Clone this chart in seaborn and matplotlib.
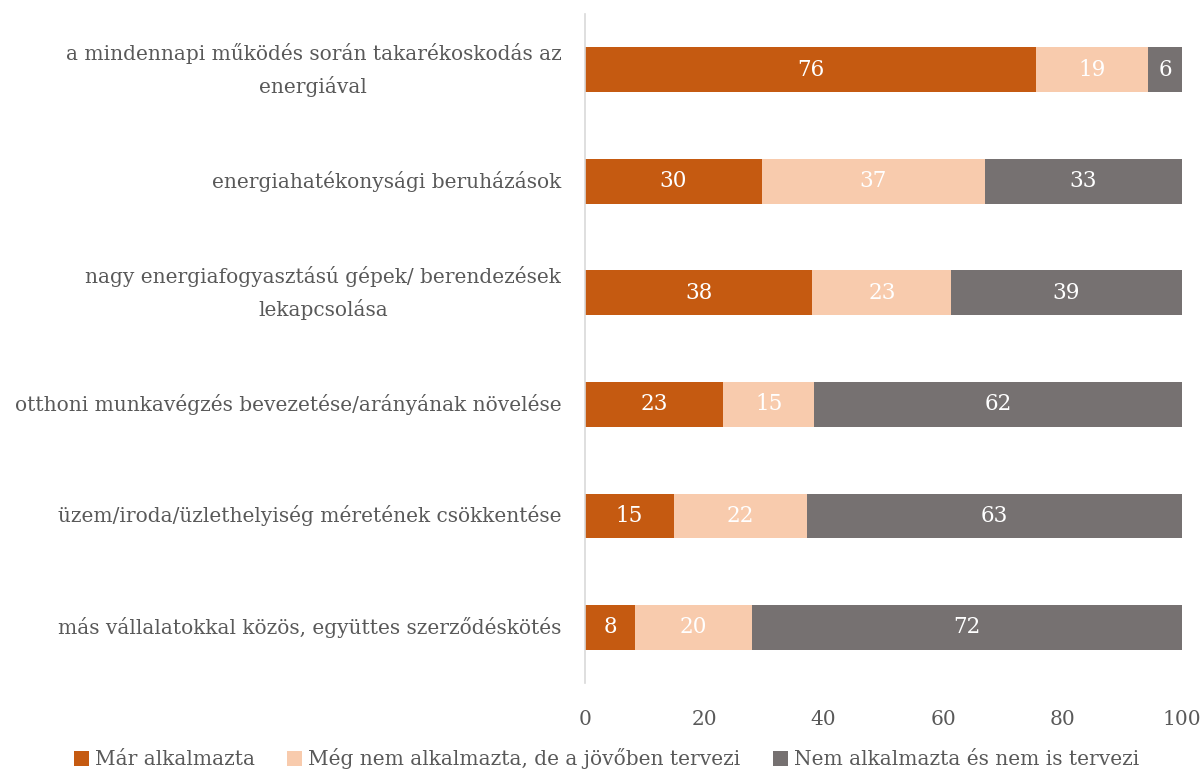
import numpy as np
import pandas as pd
import seaborn as sns
import matplotlib.pyplot as plt

# data (percent)
categories = [
    "a mindennapi működés során takarékoskodás az\nenergiával",
    "energiahatékonysági beruházások",
    "nagy energiafogyasztású gépek/ berendezések\nlekapcsolása",
    "otthoni munkavégzés bevezetése/arányának növelése",
    "üzem/iroda/üzlethelyiség méretének csökkentése",
    "más vállalatokkal közös, együttes szerződéskötés",
]
mar_alkalmazta = [75.6, 29.6, 38.1, 23.2, 14.9, 8.4]
jovoben_tervezi = [18.8, 37.4, 23.3, 15.2, 22.3, 19.6]
nem_tervezi = [5.6, 33.0, 38.6, 61.6, 62.8, 72.0]
series_names = ["Már alkalmazta",
                "Még nem alkalmazta, de a jövőben tervezi",
                "Nem alkalmazta és nem is tervezi"]
colors = ["#C55A11", "#F8CBAD", "#767171"]

sns.set_style("white")
plt.rcParams['font.family'] = ['DejaVu Serif']
txt = "#595959"

fig = plt.figure(figsize=(12.01, 7.72), dpi=100)
ax = fig.add_axes([0.487, 0.115, 0.497, 0.867])

df = pd.DataFrame({"cat": categories, "a": mar_alkalmazta,
                   "b": jovoben_tervezi, "c": nem_tervezi})
left = np.zeros(len(df))
for col, name, c in zip(["a", "b", "c"], series_names, colors):
    sns.barplot(data=df, y="cat", x=col, orient="h", color=c, width=0.4,
                left=left, label=name, ax=ax, linewidth=0, saturation=1)
    left = left + df[col].values

for cont in ax.containers:
    ax.bar_label(cont, labels=[f"{v:.0f}" for v in cont.datavalues],
                 label_type="center", color="white", fontsize=15.5)

ax.set_xlim(0, 100)
ax.set_ylim(5.5, -0.5)
ax.set_xticks([0, 20, 40, 60, 80, 100])
ax.set_xlabel("")
ax.set_ylabel("")
for s in ["top", "right", "bottom"]:
    ax.spines[s].set_visible(False)
ax.spines["left"].set_color("#D9D9D9")
ax.spines["left"].set_linewidth(1.2)
ax.tick_params(axis="x", length=0, labelsize=14.5, labelcolor=txt, pad=19)
ax.tick_params(axis="y", length=0, labelsize=14.5, labelcolor=txt, pad=17)
for t in ax.get_yticklabels():
    t.set_multialignment("center")
    t.set_linespacing(1.7)
    t.set_verticalalignment("center")

handles, labels = ax.get_legend_handles_labels()
if ax.get_legend():
    ax.get_legend().remove()
fig.legend(handles, labels, loc="lower center", ncol=3, frameon=False,
           bbox_to_anchor=(0.505, -0.02), fontsize=14.5, labelcolor=txt,
           handlelength=0.75, handleheight=0.75, handletextpad=0.3,
           columnspacing=1.6)

fig.savefig("out.png", dpi=100)
